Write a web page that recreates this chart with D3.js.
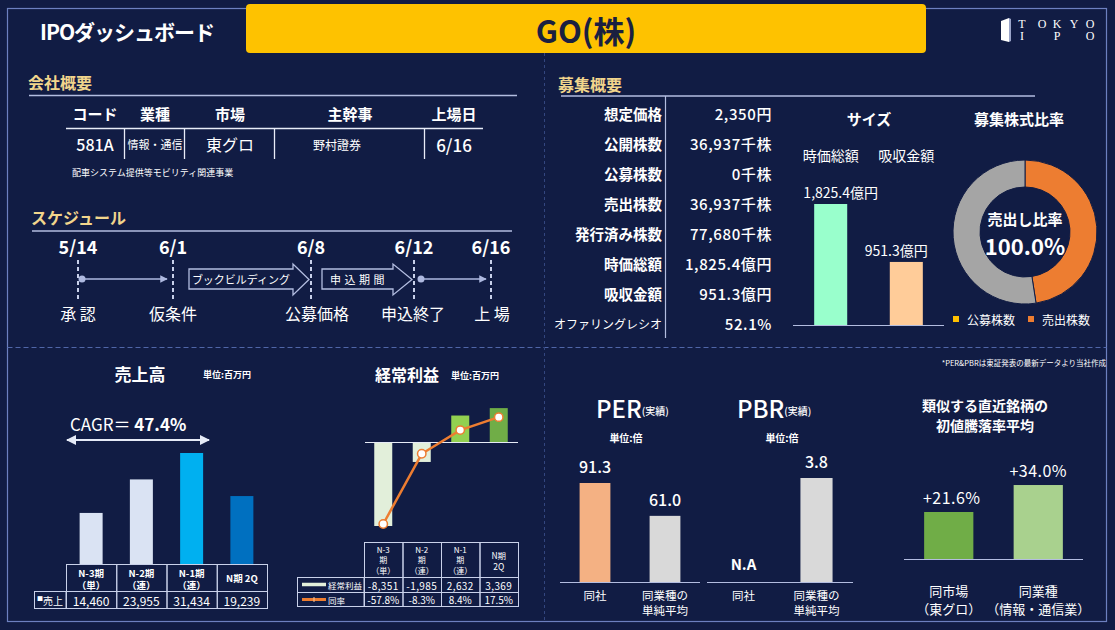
<!DOCTYPE html>
<html><head><meta charset="utf-8">
<script src="https://cdn.jsdelivr.net/npm/d3@7"></script>
<style>html,body{margin:0;padding:0;background:#111c44;} svg{display:block;}</style>
</head><body><svg id="c" width="1115" height="630"></svg>
<script>
// ---------------- DATA ----------------
const titleText = "GO(株)";
const dashboardTitle = "IPOダッシュボード";
const companyHeaders = ["コード", "業種", "市場", "主幹事", "上場日"];
const companyValues = ["581A", "情報・通信", "東グロ", "野村證券", "6/16"];
const businessDesc = "配車システム提供等モビリティ関連事業";
const scheduleDates = ["5/14", "6/1", "6/8", "6/12", "6/16"];
const scheduleLabels = ["承 認", "仮条件", "公募価格", "申込終了", "上 場"];
const schedulePhases = ["ブックビルディング", "申込期間"];
const offerLabels = ["想定価格", "公開株数", "公募株数", "売出株数", "発行済み株数", "時価総額", "吸収金額", "オファリングレシオ"];
const offerValues = ["2,350円", "36,937千株", "0千株", "36,937千株", "77,680千株", "1,825.4億円", "951.3億円", "52.1%"];
const sizeCategories = ["時価総額", "吸収金額"];
const sizeValues = [1825.4, 951.3];
const donutCategories = ["公募株数", "売出株数", "残り"];
const donutValues = [0, 36937, 40743];
const donutRatio = "100.0%";
const salesCategories = [["N-3期", "（単）"], ["N-2期", "（連）"], ["N-1期", "（連）"], ["N期 2Q"]];
const salesValues = [14460, 23955, 31434, 19239];
const cagrValue = "47.4%";
const profitCategories = [["N-3", "期", "（単）"], ["N-2", "期", "（連）"], ["N-1", "期", "（連）"], ["N期", "2Q"]];
const profitValues = [-8351, -1985, 2632, 3369];
const profitRates = [-57.8, -8.3, 8.4, 17.5];
const perCategories = [["同社"], ["同業種の", "単純平均"]];
const perValues = [91.3, 61.0];
const pbrValues = [null, 3.8];
const similarCategories = [["同市場", "（東グロ）"], ["同業種", "（情報・通信業）"]];
const similarValues = [21.6, 34.0];

// ---------------- HELPERS ----------------
const F = "'Noto Sans CJK JP','Noto Sans',sans-serif";
const svg = d3.select("#c");
const GOLD = "#f1d58c", LINE = "#b3bde0", FRAME = "#6d80c0";
const fmtComma = v => d3.format(",")(v).replace("−", "-");
const fmt1 = v => d3.format(".1f")(v).replace("−", "-");
function txt(x, y, s, o = {}) {
  const e = svg.append("text").attr("x", x).attr("y", y).text(s)
    .attr("font-family", o.ff || F).attr("font-size", o.size || 12)
    .attr("font-weight", o.w || "normal").attr("fill", o.fill || "#fff")
    .attr("text-anchor", o.anchor || "middle").attr("dominant-baseline", "central");
  if (o.ls) e.attr("letter-spacing", o.ls);
  return e;
}
function line(x1, y1, x2, y2, o = {}) {
  const e = svg.append("line").attr("x1", x1).attr("y1", y1).attr("x2", x2).attr("y2", y2)
    .attr("stroke", o.c || LINE).attr("stroke-width", o.w || 1);
  if (o.dash) e.attr("stroke-dasharray", o.dash);
  return e;
}
svg.append("rect").attr("width", 1115).attr("height", 630).attr("fill", "#111c44");

// defs arrow markers
const defs = svg.append("defs");
function marker(id, color, orient) {
  defs.append("marker").attr("id", id).attr("viewBox", "0 0 10 10").attr("refX", 9).attr("refY", 5)
    .attr("markerWidth", 5).attr("markerHeight", 5).attr("orient", orient)
    .append("path").attr("d", "M0,0L10,5L0,10Z").attr("fill", color);
}
marker("arrS", "#aeb9e0", "auto");
marker("arrC", "#e6ebf7", "auto-start-reverse");

// ---------------- FRAME ----------------
svg.append("rect").attr("x", 7.5).attr("y", 8.5).attr("width", 1099).attr("height", 613)
  .attr("fill", "none").attr("stroke", FRAME).attr("stroke-width", 1.2);
line(7.5, 347.5, 1106.5, 347.5, { c: "#5066a8", w: 1.2, dash: "5,3" });
line(544.5, 53, 544.5, 621, { c: "#33467f", w: 1, dash: "3,3" });

// ---------------- HEADER ----------------
svg.append("rect").attr("x", 246).attr("y", 4).attr("width", 680).attr("height", 49).attr("rx", 4).attr("fill", "#fec200");
txt(586, 29, titleText, { size: 31, w: "bold", fill: "#1a2040" });
txt(40, 31, dashboardTitle, { size: 21, w: "bold", anchor: "start", ls: -1 });
// logo
svg.append("path").attr("d", "M1001,21 L1009,18 L1009,42 L1001,40 Z").attr("fill", "#fff");
svg.append("path").attr("d", "M1009,18 L1011,19 L1011,41 L1009,42 Z").attr("fill", "#9aa4c8");
const logoF = "'Liberation Serif','DejaVu Serif',serif";
[["T", 1022], ["O", 1042], ["K", 1057], ["Y", 1074], ["O", 1090]].forEach(d => txt(d[1], 24, d[0], { size: 12, ff: logoF }));
[["I", 1022], ["P", 1057], ["O", 1090]].forEach(d => txt(d[1], 36, d[0], { size: 12, ff: logoF }));

// ---------------- 会社概要 ----------------
txt(28, 82, "会社概要", { size: 16, w: "bold", fill: GOLD, anchor: "start" });
line(29, 95.5, 517, 95.5, { c: LINE, w: 1.5 });
const compCenters = [95, 155, 230, 350, 454];
const compSizes = [16, 11, 16, 12, 17];
const compWeights = ["500", "normal", "normal", "normal", "500"];
companyHeaders.forEach((h, i) => txt(compCenters[i], 113, h, { size: 15, w: "bold" }));
line(66, 128.5, 483, 128.5, { c: "#e8ecf8", w: 1.3 });
[124, 184, 274, 424].forEach(x => line(x + 0.5, 128, x + 0.5, 159, { c: "#e8ecf8", w: 1.3 }));
companyValues.forEach((v, i) => txt(i === 3 ? 337 : compCenters[i], 144, v, { size: compSizes[i], w: compWeights[i] }));
txt(72, 172, businessDesc, { size: 9, anchor: "start" });

// ---------------- スケジュール ----------------
txt(31, 217, "スケジュール", { size: 16, w: "bold", fill: GOLD, anchor: "start" });
line(32, 231, 512, 231, { c: LINE, w: 1.5 });
const schedX = [78, 173, 311, 414, 491];
const schedLabelX = [78, 173, 317, 413, 492];
scheduleDates.forEach((d, i) => {
  txt(schedX[i], 246, d, { size: 18, w: "bold" });
  line(schedX[i], 260, schedX[i], 299, { c: "#c8d0ea", w: 2, dash: "4,3" });
  txt(schedLabelX[i], 313, scheduleLabels[i], { size: 16 });
});
svg.append("circle").attr("cx", 82).attr("cy", 279).attr("r", 3.5).attr("fill", "#aeb9e0");
line(82, 279, 167, 279, { c: "#aeb9e0", w: 1.5 }).attr("marker-end", "url(#arrS)");
svg.append("circle").attr("cx", 421).attr("cy", 279).attr("r", 3.5).attr("fill", "#aeb9e0");
line(421, 279, 486, 279, { c: "#aeb9e0", w: 1.5 }).attr("marker-end", "url(#arrS)");
function blockArrow(x0, xh, x1, label, lx, ls) {
  const p = `M${x0},269 L${xh},269 L${xh},264 L${x1},279.5 L${xh},295 L${xh},289 L${x0},289 Z`;
  svg.append("path").attr("d", p).attr("fill", "none").attr("stroke", "#b3bde0").attr("stroke-width", 1.3);
  txt(lx, 279, label, { size: 11, ls: ls });
}
blockArrow(189, 293, 309, schedulePhases[0], 241, 0);
blockArrow(322, 393, 412, schedulePhases[1], 359, 3.5);

// ---------------- 募集概要 ----------------
txt(558, 84, "募集概要", { size: 16, w: "bold", fill: GOLD, anchor: "start" });
line(561, 96, 1035, 96, { c: LINE, w: 1.5 });
line(665.5, 96, 665.5, 338, { c: LINE, w: 1.2 });
const rowY = d3.scalePoint().domain(d3.range(offerLabels.length)).range([113, 323]);
offerLabels.forEach((l, i) => {
  txt(662, rowY(i), l, { size: i === 7 ? 12 : 14.5, w: i === 7 ? "normal" : "bold", anchor: "end" });
  txt(772, rowY(i), offerValues[i], { size: 15, w: "500", anchor: "end", ls: 0.6 });
});

// size chart
txt(869, 118, "サイズ", { size: 15, w: "bold" });
const sx = d3.scaleBand().domain(sizeCategories).range([793, 944]).paddingInner(0.563).paddingOuter(0.28);
const sy = d3.scaleLinear().domain([0, d3.max(sizeValues)]).range([325, 204]);
const sizeFill = ["#99ffcc", "#ffcc99"];
const sizeLabelDx = [10, -10];
sizeCategories.forEach((c, i) => {
  txt(sx(c) + sx.bandwidth() / 2, 155, c, { size: 14 });
  svg.append("rect").attr("x", sx(c)).attr("y", sy(sizeValues[i])).attr("width", sx.bandwidth())
    .attr("height", sy(0) - sy(sizeValues[i])).attr("fill", sizeFill[i]);
  txt(sx(c) + sx.bandwidth() / 2 + sizeLabelDx[i], sy(sizeValues[i]) - 12, d3.format(",.1f")(sizeValues[i]) + "億円", { size: 14 });
});
line(793, 325.5, 944, 325.5, { c: "#b3bde0", w: 1.2 });

// donut
txt(1019, 118, "募集株式比率", { size: 15, w: "bold" });
const pie = d3.pie().sort(null).value(d => d)(donutValues);
const arc = d3.arc().innerRadius(45).outerRadius(72);
const donutFill = ["#ffc000", "#ed7d31", "#a5a5a5"];
const dg = svg.append("g").attr("transform", "translate(1025,232)");
dg.selectAll("path").data(pie).join("path").attr("d", arc)
  .attr("fill", (d, i) => donutFill[i]).attr("stroke", "#111c44").attr("stroke-width", 1);
txt(1025, 218, "売出し比率", { size: 15, w: "bold" });
txt(1025, 245, donutRatio, { size: 22, w: "bold" });
[[953, 0], [1028, 1]].forEach(([x, i]) => {
  svg.append("rect").attr("x", x).attr("y", 316).attr("width", 6).attr("height", 6).attr("fill", donutFill[i]);
  txt(x + 14, 319, donutCategories[i], { size: 12, anchor: "start" });
});

txt(1106, 362, "*PER&PBRは東証発表の最新データより当社作成", { size: 7.5, anchor: "end" });

// ---------------- 売上高 ----------------
txt(140, 373, "売上高", { size: 17, w: "bold" });
txt(203, 374, "単位:百万円", { size: 9, w: "bold", anchor: "start" });
const cagrT = txt(70, 423, "", { size: 17, anchor: "start" });
cagrT.append("tspan").text("CAGR＝ ");
cagrT.append("tspan").attr("font-weight", "bold").text(cagrValue);
line(67, 440, 209, 440, { c: "#e6ebf7", w: 2 }).attr("marker-end", "url(#arrC)").attr("marker-start", "url(#arrC)");

const salesX = d3.scaleBand().domain(d3.range(salesValues.length)).range([66, 267]);
const salesY = d3.scaleLinear().domain([0, d3.max(salesValues)]).range([564, 453]);
const salesFill = ["#dae3f3", "#dae3f3", "#00b0f0", "#0070c0"];
const bw1 = 23;
salesValues.forEach((v, i) => {
  svg.append("rect").attr("x", salesX(i) + (salesX.bandwidth() - bw1) / 2).attr("y", salesY(v))
    .attr("width", bw1).attr("height", salesY(0) - salesY(v)).attr("fill", salesFill[i]);
});
// table
const TB = "#c9d1ea";
const tblG = svg.append("g").attr("fill", "none").attr("stroke", TB).attr("stroke-width", 1);
salesValues.forEach((v, i) => {
  tblG.append("rect").attr("x", salesX(i) + 0.5).attr("y", 564.5).attr("width", salesX.bandwidth()).attr("height", 27);
  tblG.append("rect").attr("x", salesX(i) + 0.5).attr("y", 591.5).attr("width", salesX.bandwidth()).attr("height", 17);
  const cx = salesX(i) + salesX.bandwidth() / 2;
  const cat = salesCategories[i];
  if (cat.length === 2) { txt(cx, 572.5, cat[0], { size: 9.5, w: "bold" }); txt(cx, 584.5, cat[1], { size: 9.5, w: "bold" }); }
  else txt(cx, 578, cat[0], { size: 9.5, w: "bold" });
  txt(cx, 600, fmtComma(v), { size: 12 });
});
tblG.append("rect").attr("x", 34.5).attr("y", 591.5).attr("width", 31.5).attr("height", 17);
const sl = txt(37, 600, "", { size: 10, anchor: "start" });
sl.append("tspan").attr("font-size", 6).attr("dy", -2).text("■");
sl.append("tspan").attr("dy", 2).text("売上");

// ---------------- 経常利益 ----------------
txt(407, 374, "経常利益", { size: 16, w: "bold" });
txt(475, 375, "単位:百万円", { size: 9, w: "bold" });
const px = d3.scaleBand().domain(d3.range(profitValues.length)).range([364, 518]);
const py = d3.scaleLinear().domain([0, -8351]).range([442, 526]);
const pr = d3.scaleLinear().domain([0, -57.8]).range([442, 524]);
const profitFill = ["#e2efda", "#e2efda", "#92d050", "#70ad47"];
const bw2 = 18;
profitValues.forEach((v, i) => {
  svg.append("rect").attr("x", px(i) + (px.bandwidth() - bw2) / 2).attr("y", Math.min(py(v), py(0)))
    .attr("width", bw2).attr("height", Math.abs(py(v) - py(0))).attr("fill", profitFill[i]);
});
line(365, 442.5, 518, 442.5, { c: "#e6ebf7", w: 1.2 });
const pcx = i => px(i) + px.bandwidth() / 2;
svg.append("path").datum(profitRates).attr("d", d3.line().x((d, i) => pcx(i)).y(d => pr(d)))
  .attr("fill", "none").attr("stroke", "#ed7d31").attr("stroke-width", 2.5);
profitRates.forEach((d, i) => svg.append("circle").attr("cx", pcx(i)).attr("cy", pr(d)).attr("r", 4.2)
  .attr("fill", "#fff").attr("stroke", "#ed7d31").attr("stroke-width", 1.5));
// table
const tbl2 = svg.append("g").attr("fill", "none").attr("stroke", TB).attr("stroke-width", 1);
profitValues.forEach((v, i) => {
  const x0 = px(i) + 0.5, w = px.bandwidth();
  tbl2.append("rect").attr("x", x0).attr("y", 542.5).attr("width", w).attr("height", 35);
  tbl2.append("rect").attr("x", x0).attr("y", 577.5).attr("width", w).attr("height", 15);
  tbl2.append("rect").attr("x", x0).attr("y", 592.5).attr("width", w).attr("height", 14);
  const cat = profitCategories[i], cx = pcx(i);
  if (cat.length === 3) cat.forEach((c, j) => txt(cx, 549 + j * 10.5, c, { size: 8 }));
  else cat.forEach((c, j) => txt(cx, 554.5 + j * 11, c, { size: 8.5 }));
  txt(cx, 585, fmtComma(v), { size: 10, ls: 0.4 });
  txt(cx, 599.5, fmt1(profitRates[i]) + "%", { size: 10 });
});
tbl2.append("rect").attr("x", 297.5).attr("y", 577.5).attr("width", 66.5).attr("height", 15);
tbl2.append("rect").attr("x", 297.5).attr("y", 592.5).attr("width", 66.5).attr("height", 14);
line(302, 584.5, 326, 584.5, { c: "#e2efda", w: 3.5 });
txt(328, 585, "経常利益", { size: 8.5, anchor: "start" });
line(302, 599.5, 326, 599.5, { c: "#ed7d31", w: 3 });
line(314, 597, 314, 602, { c: "#f6c89c", w: 1 });
txt(328, 599.5, "同率", { size: 8.5, anchor: "start" });

// ---------------- PER / PBR ----------------
function valuation(title, x0, x1, values, titleX, unitX, maxV, topY, fills) {
  const t = txt(titleX, 407, "", { size: 24, w: "500", anchor: "start" });
  t.append("tspan").text(title);
  t.append("tspan").attr("font-size", 10).attr("dy", 3).text("(実績)");
  txt(unitX, 437, "単位:倍", { size: 10, w: "bold" });
  const x = d3.scaleBand().domain(d3.range(values.length)).range([x0, x1]).paddingInner(0.56).paddingOuter(0.28);
  const y = d3.scaleLinear().domain([0, maxV]).range([582, topY]);
  values.forEach((v, i) => {
    const cx = x(i) + x.bandwidth() / 2;
    if (v == null) { txt(cx, 563, "N.A", { size: 15, w: "bold" }); }
    else {
      svg.append("rect").attr("x", x(i)).attr("y", y(v)).attr("width", x.bandwidth()).attr("height", y(0) - y(v)).attr("fill", fills[i]);
      txt(cx, y(v) - 17, fmt1(v), { size: 16, w: "500" });
    }
    perCategories[i].forEach((c, j) => txt(cx, 595 + j * 15, c, { size: 11.5 }));
  });
  line(x0, 582.5, x1, 582.5, { c: "#b3bde0", w: 1.2 });
}
valuation("PER", 560, 700, perValues, 596, 626, 91.3, 483, ["#f4b183", "#d9d9d9"]);
valuation("PBR", 707, 853, pbrValues, 737, 782, 3.8, 478, ["#d9d9d9", "#d9d9d9"]);

// ---------------- 類似銘柄 ----------------
txt(985, 405, "類似する直近銘柄の", { size: 14, w: "bold" });
txt(985, 425, "初値騰落率平均", { size: 14, w: "bold" });
const simX = d3.scaleBand().domain(d3.range(similarValues.length)).range([904, 1083]).paddingInner(0.45).paddingOuter(0.225);
const simY = d3.scaleLinear().domain([0, 21.6]).range([559, 512]);
const simFill = ["#70ad47", "#a9d18e"];
similarValues.forEach((v, i) => {
  const cx = simX(i) + simX.bandwidth() / 2;
  svg.append("rect").attr("x", simX(i)).attr("y", simY(v)).attr("width", simX.bandwidth()).attr("height", simY(0) - simY(v)).attr("fill", simFill[i]);
  txt(cx + (i === 0 ? 3 : 0), simY(v) - 15, d3.format("+.1f")(v) + "%", { size: 16, ls: 0.5 });
  similarCategories[i].forEach((c, j) => txt(cx, 590 + j * 18, c, { size: 13 }));
});
line(904, 559.5, 1083, 559.5, { c: "#b3bde0", w: 1.2 });
</script></body></html>
